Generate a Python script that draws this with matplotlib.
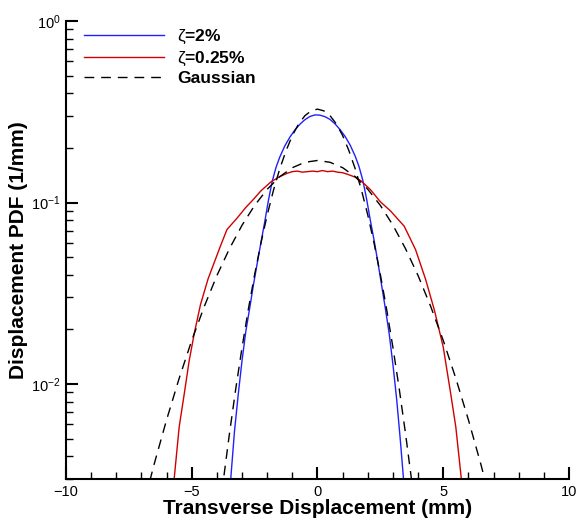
import numpy as np
import matplotlib
matplotlib.use("Agg")
import matplotlib.pyplot as plt
from matplotlib.ticker import MultipleLocator, LogLocator, NullFormatter

plt.rcParams['font.family'] = ['Liberation Sans', 'DejaVu Sans']
plt.rcParams['mathtext.fontset'] = 'custom'
plt.rcParams['mathtext.rm'] = 'Liberation Sans'
plt.rcParams['mathtext.it'] = 'Liberation Sans'

# measured PDF, damping 2%
x_z2 = [-3.45, -3.3, -3.15, -3.0, -2.85, -2.7, -2.55, -2.4, -2.25, -2.1, -1.95,
        -1.8, -1.65, -1.5, -1.3, -1.1, -0.9, -0.7, -0.5, -0.3, -0.1, 0.1, 0.3,
        0.5, 0.7, 0.9, 1.1, 1.3, 1.5, 1.65, 1.8, 1.95, 2.1, 2.25, 2.4, 2.55,
        2.7, 2.85, 3.0, 3.15, 3.3, 3.42]
pdf_z2 = [0.003, 0.0055, 0.0088, 0.0135, 0.0195, 0.026, 0.035, 0.046, 0.060,
          0.078, 0.103, 0.131, 0.156, 0.178, 0.205, 0.229, 0.251, 0.270, 0.286,
          0.298, 0.304, 0.303, 0.297, 0.287, 0.271, 0.252, 0.231, 0.207, 0.180,
          0.158, 0.133, 0.105, 0.080, 0.062, 0.047, 0.035, 0.026, 0.019, 0.0128,
          0.0082, 0.0048, 0.003]

# measured PDF, damping 0.25%
x_z025 = [-5.7, -5.5, -5.3, -5.1, -4.9, -4.65, -4.35, -4.05, -3.85, -3.6, -3.2,
          -2.85, -2.55, -2.25, -1.85, -1.5, -1.2, -1.0, -0.8, -0.6, -0.4, -0.2,
          0.0, 0.2, 0.4, 0.6, 0.8, 1.0, 1.2, 1.5, 1.75, 2.1, 2.5, 2.9, 3.45,
          3.9, 4.3, 4.65, 5.0, 5.3, 5.5, 5.72]
pdf_z025 = [0.003, 0.0058, 0.0088, 0.0135, 0.019, 0.0275, 0.038, 0.049, 0.058,
            0.071, 0.082, 0.094, 0.104, 0.116, 0.130, 0.139, 0.145, 0.148, 0.149,
            0.147, 0.148, 0.149, 0.148, 0.150, 0.148, 0.149, 0.147, 0.146, 0.143,
            0.138, 0.131, 0.118, 0.101, 0.090, 0.074, 0.055, 0.0377, 0.0255,
            0.016, 0.0088, 0.0058, 0.003]

# Gaussian reference, 2%
x_g2 = [-4.0, -3.75, -3.5, -3.25, -3.0, -2.75, -2.5, -2.25, -2.0, -1.75, -1.5,
        -1.25, -1.0, -0.75, -0.5, -0.25, 0.0, 0.25, 0.5, 0.75, 1.0, 1.25, 1.5,
        1.75, 2.0, 2.25, 2.5, 2.75, 3.0, 3.25, 3.5, 3.75, 4.0]
pdf_g2 = [0.00151, 0.0029, 0.00534, 0.00942, 0.0159, 0.0258, 0.0401, 0.0597,
          0.0853, 0.1169, 0.1535, 0.193, 0.234, 0.271, 0.301, 0.320, 0.327,
          0.320, 0.301, 0.271, 0.234, 0.193, 0.1535, 0.1169, 0.0853, 0.0597,
          0.0401, 0.0258, 0.0159, 0.00942, 0.00534, 0.0029, 0.00151]

# Gaussian reference, 0.25%
x_g025 = [-7.0, -6.5, -6.0, -5.5, -5.0, -4.5, -4.0, -3.5, -3.0, -2.5, -2.0,
          -1.5, -1.0, -0.5, 0.0, 0.5, 1.0, 1.5, 2.0, 2.5, 3.0, 3.5, 4.0, 4.5,
          5.0, 5.5, 6.0, 6.5, 7.0]
pdf_g025 = [0.00194, 0.0036, 0.00636, 0.01076, 0.0174, 0.0268, 0.0396, 0.0557,
            0.075, 0.0964, 0.1183, 0.1388, 0.1556, 0.1666, 0.1705, 0.1666,
            0.1556, 0.1388, 0.1183, 0.0964, 0.075, 0.0557, 0.0396, 0.0268,
            0.0174, 0.01076, 0.00636, 0.0036, 0.00194]

fig = plt.figure(figsize=(5.8, 5.24), dpi=100)
ax = fig.add_axes([0.1138, 0.0859, 0.8672, 0.874])

ax.plot(x_z2, pdf_z2, color='#2020ff', lw=1.0, label=r'$\zeta$=2%')
ax.plot(x_z025, pdf_z025, color='#d00000', lw=1.0, label=r'$\zeta$=0.25%')
ax.plot(x_g2, pdf_g2, color='black', lw=1.0, ls=(0, (7, 5)), label='Gaussian')
ax.plot(x_g025, pdf_g025, color='black', lw=1.0, ls=(0, (7, 5)))

ax.set_yscale('log')
ax.set_xlim(-10, 10)
ax.set_ylim(0.003, 1)

ax.xaxis.set_major_locator(MultipleLocator(5))
ax.xaxis.set_minor_locator(MultipleLocator(1))
ax.yaxis.set_major_locator(LogLocator(base=10))
ax.yaxis.set_minor_locator(LogLocator(base=10, subs=np.arange(2, 10)))
ax.yaxis.set_minor_formatter(NullFormatter())

for side in ['top', 'right']:
    ax.spines[side].set_visible(False)
for side in ['left', 'bottom']:
    ax.spines[side].set_linewidth(1.5)

ax.tick_params(which='major', direction='in', length=8.5, width=1.5,
               labelsize=10.5, pad=4)
ax.tick_params(which='minor', direction='in', length=4.8, width=1.0)

ax.set_xlabel('Transverse Displacement (mm)', fontsize=15, fontweight='bold',
              labelpad=0)
ax.set_ylabel('Displacement PDF (1/mm)', fontsize=15, fontweight='bold',
              labelpad=2)

leg = ax.legend(loc='upper left', bbox_to_anchor=(0.022, 1.0), frameon=False,
                handlelength=4.6, handletextpad=0.75, labelspacing=0.2,
                borderaxespad=0.0,
                prop={'size': 12.5, 'weight': 'bold'})

fig.savefig('out.png', dpi=100)
